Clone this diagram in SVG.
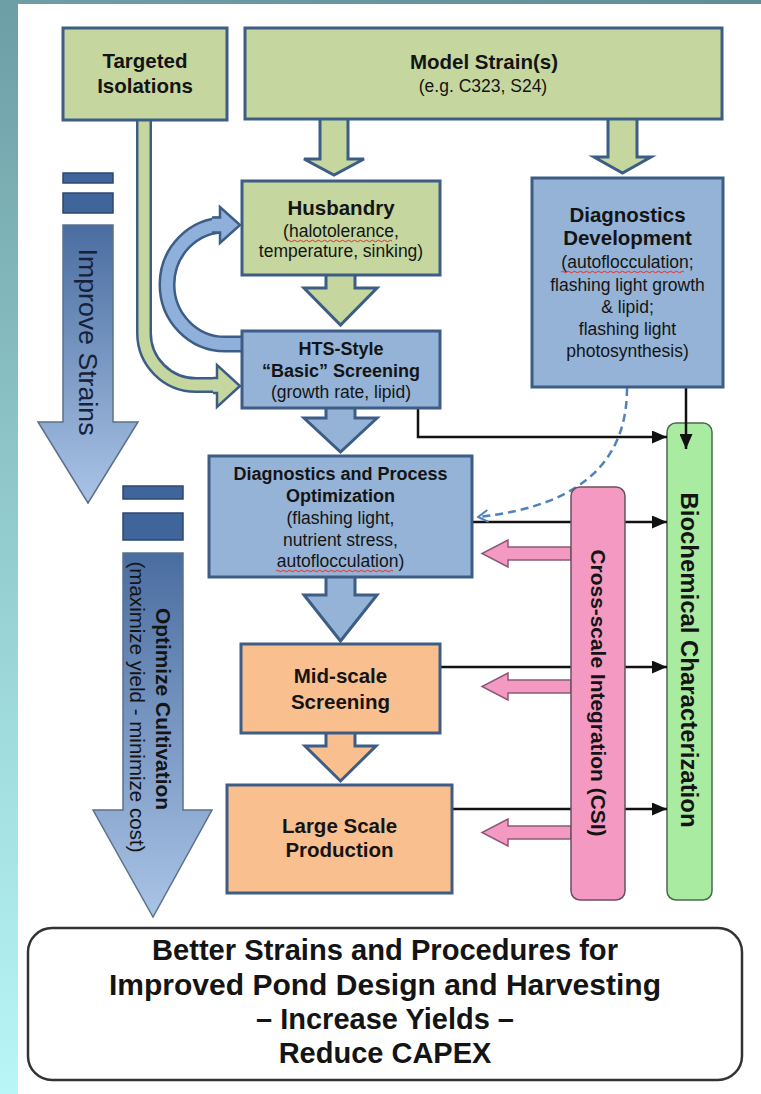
<svg xmlns="http://www.w3.org/2000/svg" width="761" height="1094" viewBox="0 0 761 1094">
<defs>
<linearGradient id="side" x1="0" y1="0" x2="0" y2="1094" gradientUnits="userSpaceOnUse"><stop offset="0" stop-color="#6c9ea5"/><stop offset="0.5" stop-color="#94cdd0"/><stop offset="1" stop-color="#b8f6f8"/></linearGradient>
<linearGradient id="topg" x1="0" y1="0" x2="761" y2="0" gradientUnits="userSpaceOnUse"><stop offset="0" stop-color="#6e9fa6"/><stop offset="1" stop-color="#5f8f95"/></linearGradient>
<linearGradient id="g1" x1="0" y1="225" x2="0" y2="503" gradientUnits="userSpaceOnUse"><stop offset="0" stop-color="#4a6da0"/><stop offset="1" stop-color="#aac4e6"/></linearGradient>
<linearGradient id="g2" x1="0" y1="553" x2="0" y2="917" gradientUnits="userSpaceOnUse"><stop offset="0" stop-color="#4a6da0"/><stop offset="1" stop-color="#aac4e6"/></linearGradient>
<marker id="arr" viewBox="0 0 15 13" refX="15" refY="6.5" markerWidth="15" markerHeight="13" markerUnits="userSpaceOnUse" orient="auto"><path d="M0,0 L15,6.5 L0,13 z" fill="#111"/></marker>
<marker id="open" viewBox="0 0 12 14" refX="11" refY="7" markerWidth="12" markerHeight="14" markerUnits="userSpaceOnUse" orient="auto"><path d="M1,1 L11,7 L1,13" fill="none" stroke="#4f81bd" stroke-width="2"/></marker>
<style>
.t{font-family:"Liberation Sans",Arial,sans-serif;fill:#141414;text-anchor:middle}
.b20{font-weight:bold;font-size:20.5px}
.b18{font-weight:bold;font-size:18px}
.r17{font-size:17.5px}
.gr{fill:#c5d79f;stroke:#3d5d86;stroke-width:3}
.bl{fill:#95b3d7;stroke:#3d5d86;stroke-width:3}
.or{fill:#f9bf8f;stroke:#3d5d86;stroke-width:3}
.ln{fill:none;stroke:#111;stroke-width:2.5;marker-end:url(#arr)}
.pk{fill:#f49ac2;stroke:#8a5a78;stroke-width:1.5}
.bar{fill:#40659b;stroke:#2c4770;stroke-width:1.5}
.sq{fill:none;stroke:#e03030;stroke-width:1}
</style>
</defs>
<rect x="0" y="0" width="761" height="1094" fill="#ffffff"/>
<rect x="0" y="0" width="761" height="4" fill="url(#topg)"/>
<rect x="0" y="0" width="18" height="1094" fill="url(#side)"/>

<g id="improve-strains">
<rect class="bar" x="63" y="173" width="50" height="10"/>
<rect class="bar" x="63" y="193" width="50" height="20"/>
<polygon points="63,225 113,225 113,422 138,422 88,503 38,422 63,422" fill="url(#g1)" stroke="#5b708c" stroke-width="1.5"/>
<text class="t" transform="translate(88,342) rotate(90)" dy="0.35em" font-size="26" textLength="187" lengthAdjust="spacingAndGlyphs" style="fill:#16223a">Improve Strains</text>
</g>

<g id="optimize-cultivation">
<rect class="bar" x="123" y="486" width="60" height="13"/>
<rect class="bar" x="123" y="513" width="60" height="27"/>
<polygon points="123,553 183,553 183,810 212,810 153,917 93,810 123,810" fill="url(#g2)" stroke="#5b708c" stroke-width="1.5"/>
<text class="t" transform="translate(163,709) rotate(90)" dy="0.35em" font-size="20" font-weight="bold" textLength="202" lengthAdjust="spacingAndGlyphs">Optimize Cultivation</text>
<text class="t" transform="translate(137,707) rotate(90)" dy="0.35em" font-size="19.5" textLength="291" lengthAdjust="spacingAndGlyphs">(maximize yield - minimize cost)</text>
</g>

<g id="biochemical">
<rect x="667" y="423" width="45" height="477" rx="9" fill="#a9eba0" stroke="#4a6a50" stroke-width="1.5"/>
<text class="t" transform="translate(689.5,660) rotate(90)" dy="0.35em" font-size="23" font-weight="bold" textLength="335" lengthAdjust="spacingAndGlyphs">Biochemical Characterization</text>
</g>

<g id="connectors">
<polygon class="gr" points="320,117 348,117 348,159 364,159 334,175 304,159 320,159"/>
<polygon class="gr" points="608,117 637,117 637,157 651,157 622.5,173 594,157 608,157"/>
<polygon class="gr" points="326,273 355,273 355,288 377,288 340.5,325 304,288 326,288"/>
<polygon class="bl" points="326,406 355,406 355,418 377,418 340.5,452 304,418 326,418"/>
<polygon class="bl" points="326,575 355,575 355,595 377,595 340.5,641 304,595 326,595"/>
<polygon class="or" points="326,731 355,731 355,746 376,746 340.5,781 305,746 326,746"/>
<path d="M144,117 V333 A52,52 0 0 0 196,385 H218" fill="none" stroke="#3d5d86" stroke-width="16"/>
<path d="M144,117 V333 A52,52 0 0 0 196,385 H218" fill="none" stroke="#c5d79f" stroke-width="11"/>
<path d="M213,378 H217 V365 L240,386 L217,407 V393 H213" fill="#c5d79f" stroke="#3d5d86" stroke-width="2.5"/>
<path d="M245,344 H225 A58,59.5 0 0 1 225,225 H214" fill="none" stroke="#3d5d86" stroke-width="17"/>
<path d="M245,344 H225 A58,59.5 0 0 1 225,225 H214" fill="none" stroke="#8fb0da" stroke-width="12"/>
<path d="M212,217.5 H220 V207 L240,225 L220,243 V232.5 H212" fill="#8fb0da" stroke="#3d5d86" stroke-width="2.5"/>
<path class="ln" d="M418,409 V437 H667"/>
<path class="ln" d="M472,522 H667"/>
<path class="ln" d="M440,667 H667"/>
<path class="ln" d="M452,809 H667"/>
<path class="ln" d="M686,387 V449"/>
<path d="M627,388 C627,452 592,505 478,517" fill="none" stroke="#4f81bd" stroke-width="2.5" stroke-dasharray="8,5" marker-end="url(#open)"/>
<polygon class="pk" points="571,547 508,547 508,540 482,553.5 508,567 508,560 571,560"/>
<polygon class="pk" points="571,680 508,680 508,673 482,686.5 508,700 508,693 571,693"/>
<polygon class="pk" points="571,826 508,826 508,819 482,832.5 508,846 508,839 571,839"/>
</g>

<g id="targeted-isolations">
<rect class="gr" x="63" y="28" width="164" height="92"/>
<text class="t b20" x="145" y="68">Targeted</text>
<text class="t b20" x="145" y="93">Isolations</text>
</g>

<g id="model-strains">
<rect class="gr" x="245" y="28" width="477" height="91"/>
<text class="t b20" x="484" y="69">Model Strain(s)</text>
<text class="t r17" x="483" y="92">(e.g. C323, S24)</text>
</g>

<g id="husbandry">
<rect class="gr" x="242" y="181" width="198" height="94"/>
<text class="t b20" x="341" y="215">Husbandry</text>
<text class="t r17" x="341" y="237">(halotolerance,</text>
<text class="t r17" x="341" y="257">temperature, sinking)</text>
<path class="sq" d="M287,241 q1.5,-1.5 3,0 t3,0 t3,0 t3,0 t3,0 t3,0 t3,0 t3,0 t3,0 t3,0 t3,0 t3,0 t3,0 t3,0 t3,0 t3,0 t3,0 t3,0 t3,0 t3,0 t3,0 t3,0 t3,0 t3,0 t3,0 t3,0 t3,0 t3,0 t3,0 t3,0 t3,0 t3,0 t3,0 t3,0 t3,0"/>
</g>

<g id="hts-screening">
<rect class="bl" x="242" y="331" width="198" height="77"/>
<text class="t b18" x="341" y="355">HTS-Style</text>
<text class="t b18" x="341" y="377">“Basic” Screening</text>
<text class="t r17" x="341" y="398">(growth rate, lipid)</text>
</g>

<g id="diagnostics-development">
<rect class="bl" x="532" y="178" width="191" height="209"/>
<text class="t b20" x="627.5" y="222">Diagnostics</text>
<text class="t b20" x="627.5" y="245">Development</text>
<text class="t r17" x="627.5" y="268">(autoflocculation;</text>
<text class="t r17" x="627.5" y="291">flashing light growth</text>
<text class="t r17" x="627.5" y="313">&amp; lipid;</text>
<text class="t r17" x="627.5" y="335">flashing light</text>
<text class="t r17" x="627.5" y="357">photosynthesis)</text>
<path class="sq" d="M561,272 q1.5,-1.5 3,0 t3,0 t3,0 t3,0 t3,0 t3,0 t3,0 t3,0 t3,0 t3,0 t3,0 t3,0 t3,0 t3,0 t3,0 t3,0 t3,0 t3,0 t3,0 t3,0 t3,0 t3,0 t3,0 t3,0 t3,0 t3,0 t3,0 t3,0 t3,0 t3,0 t3,0 t3,0 t3,0 t3,0 t3,0 t3,0 t3,0 t3,0 t3,0 t3,0 t3,0"/>
</g>

<g id="diagnostics-process-optimization">
<rect class="bl" x="209" y="456" width="263" height="121"/>
<text class="t b18" x="340.5" y="480">Diagnostics and Process</text>
<text class="t b18" x="340.5" y="502">Optimization</text>
<text class="t r17" x="340.5" y="524">(flashing light,</text>
<text class="t r17" x="340.5" y="546">nutrient stress,</text>
<text class="t r17" x="340.5" y="567">autoflocculation)</text>
<path class="sq" d="M276,571 q1.5,-1.5 3,0 t3,0 t3,0 t3,0 t3,0 t3,0 t3,0 t3,0 t3,0 t3,0 t3,0 t3,0 t3,0 t3,0 t3,0 t3,0 t3,0 t3,0 t3,0 t3,0 t3,0 t3,0 t3,0 t3,0 t3,0 t3,0 t3,0 t3,0 t3,0 t3,0 t3,0 t3,0 t3,0 t3,0 t3,0 t3,0 t3,0 t3,0 t3,0"/>
</g>

<g id="mid-scale-screening">
<rect class="or" x="241" y="644" width="199" height="89"/>
<text class="t b20" x="340.5" y="683">Mid-scale</text>
<text class="t b20" x="340.5" y="709">Screening</text>
</g>

<g id="large-scale-production">
<rect class="or" x="227" y="785" width="225" height="108"/>
<text class="t b20" x="339.5" y="833">Large Scale</text>
<text class="t b20" x="339.5" y="857">Production</text>
</g>

<g id="cross-scale-integration">
<rect x="571" y="487" width="54" height="413" rx="9" fill="#f49ac2" stroke="#6a5060" stroke-width="1.5"/>
<text class="t" transform="translate(598,693) rotate(90)" dy="0.35em" font-size="20.5" font-weight="bold" textLength="287" lengthAdjust="spacingAndGlyphs">Cross-scale Integration (CSI)</text>
</g>

<g id="outcome">
<rect x="28" y="928" width="714" height="152" rx="24" fill="#ffffff" stroke="#333" stroke-width="2.5"/>
<text class="t" font-size="29" font-weight="bold" x="385" y="960" textLength="466" lengthAdjust="spacingAndGlyphs">Better Strains and Procedures for</text>
<text class="t" font-size="29" font-weight="bold" x="385" y="995" textLength="552" lengthAdjust="spacingAndGlyphs">Improved Pond Design and Harvesting</text>
<text class="t" font-size="29" font-weight="bold" x="385" y="1029">– Increase Yields –</text>
<text class="t" font-size="29" font-weight="bold" x="385" y="1063">Reduce CAPEX</text>
</g>
</svg>
